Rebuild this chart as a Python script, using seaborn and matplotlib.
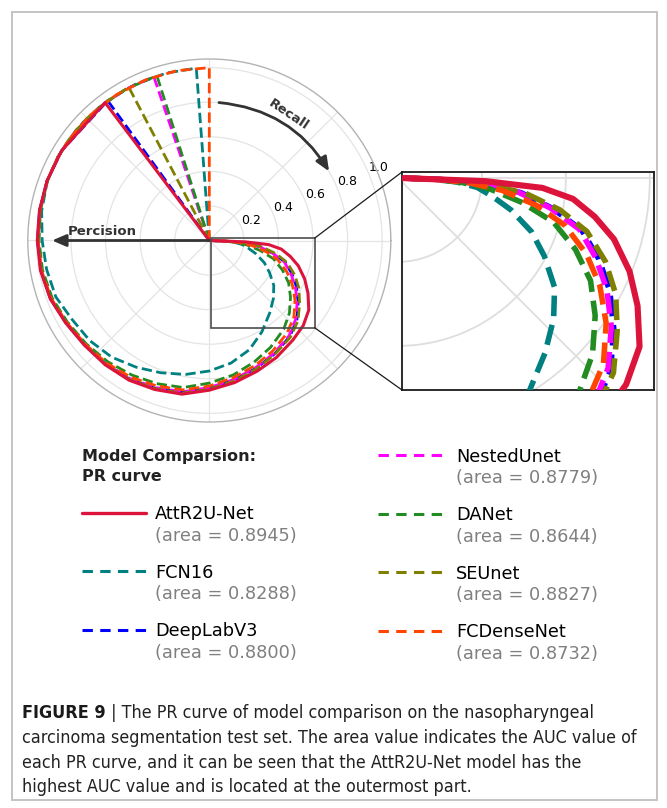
import numpy as np
import matplotlib
matplotlib.use("Agg")
import matplotlib.pyplot as plt
import seaborn as sns
from matplotlib import font_manager as fm
from matplotlib.lines import Line2D
from matplotlib.patches import Rectangle, Circle, ConnectionPatch
from matplotlib.text import Annotation

sns.set_theme(style="white")
plt.rcParams["font.family"] = ["DejaVu Sans"]

# ---------------------------------------------------------------------------
# PR curves.  Angle = 2*pi*precision, radius = recall.
# Precision levels (shared) at which the recall of every model is listed.
PREC_LEVELS = [0.444, 0.472, 0.500, 0.528, 0.556, 0.583, 0.611, 0.639, 0.667,
               0.694, 0.722, 0.750, 0.778, 0.806, 0.833, 0.861, 0.883, 0.903,
               0.922, 0.939, 0.956, 0.969, 0.981, 0.989, 0.994, 1.000]

# low-precision head of each curve (starts at the origin)
attr_prec_head = [0.353, 0.353, 0.413]
attr_rec_head = [0.0, 1.0, 1.0]
attr_rec = [1.000, 0.998, 0.995, 0.992, 0.980, 0.958, 0.943, 0.938, 0.932,
            0.918, 0.903, 0.866, 0.835, 0.805, 0.780, 0.752, 0.733, 0.702,
            0.647, 0.595, 0.535, 0.478, 0.420, 0.345, 0.210, 0.000]

fcn_prec_head = [0.262, 0.262, 0.290, 0.320, 0.350, 0.380, 0.400, 0.420]
fcn_rec_head = [0.0, 1.0, 1.0, 1.0, 1.0, 1.0, 1.0, 1.0]
fcn_rec = [0.998, 0.985, 0.967, 0.956, 0.946, 0.916, 0.902, 0.880, 0.846,
           0.815, 0.787, 0.755, 0.720, 0.673, 0.610, 0.545, 0.500, 0.455,
           0.395, 0.343, 0.280, 0.230, 0.190, 0.140, 0.080, 0.000]

deeplab_prec_head = [0.350, 0.350, 0.413]
deeplab_rec_head = [0.0, 1.0, 1.0]
deeplab_rec = [1.000, 0.997, 0.994, 0.990, 0.978, 0.956, 0.940, 0.933, 0.925,
               0.910, 0.893, 0.855, 0.820, 0.787, 0.757, 0.725, 0.683, 0.627,
               0.572, 0.516, 0.455, 0.375, 0.295, 0.195, 0.100, 0.000]

nested_prec_head = [0.302, 0.302, 0.330, 0.360, 0.390, 0.420]
nested_rec_head = [0.0, 1.0, 1.0, 1.0, 1.0, 1.0]
nested_rec = [1.000, 0.996, 0.992, 0.988, 0.976, 0.954, 0.938, 0.930, 0.921,
              0.906, 0.889, 0.851, 0.816, 0.782, 0.752, 0.719, 0.675, 0.620,
              0.564, 0.508, 0.450, 0.370, 0.290, 0.190, 0.100, 0.000]

danet_prec_head = [0.299, 0.299, 0.330, 0.360, 0.390, 0.420]
danet_rec_head = [0.0, 1.0, 1.0, 1.0, 1.0, 1.0]
danet_rec = [0.998, 0.992, 0.985, 0.980, 0.968, 0.947, 0.930, 0.915, 0.898,
             0.882, 0.864, 0.825, 0.790, 0.750, 0.712, 0.670, 0.625, 0.573,
             0.520, 0.456, 0.385, 0.300, 0.220, 0.150, 0.090, 0.000]

seunet_prec_head = [0.327, 0.327, 0.350, 0.375, 0.400, 0.420]
seunet_rec_head = [0.0, 1.0, 1.0, 1.0, 1.0, 1.0]
seunet_rec = [1.000, 0.996, 0.993, 0.990, 0.979, 0.957, 0.941, 0.934, 0.927,
              0.913, 0.897, 0.860, 0.825, 0.791, 0.760, 0.730, 0.692, 0.637,
              0.588, 0.533, 0.468, 0.393, 0.305, 0.200, 0.110, 0.000]

fcdense_prec_head = [0.250, 0.250, 0.280, 0.310, 0.340, 0.370, 0.400, 0.420]
fcdense_rec_head = [0.0, 1.0, 1.0, 1.0, 1.0, 1.0, 1.0, 1.0]
fcdense_rec = [1.000, 0.995, 0.990, 0.986, 0.974, 0.952, 0.935, 0.925, 0.912,
               0.895, 0.878, 0.842, 0.805, 0.770, 0.737, 0.700, 0.660, 0.605,
               0.545, 0.484, 0.413, 0.335, 0.250, 0.170, 0.095, 0.000]

MODELS = ["AttR2U-Net", "FCN16", "DeepLabV3", "NestedUnet", "DANet",
          "SEUnet", "FCDenseNet"]
AREAS = [0.8945, 0.8288, 0.8800, 0.8779, 0.8644, 0.8827, 0.8732]
COLORS = ["#DC143C", "#008080", "#0000FF", "#FF00FF", "#228B22",
          "#808000", "#FF4500"]
HEADS = [(attr_prec_head, attr_rec_head), (fcn_prec_head, fcn_rec_head),
         (deeplab_prec_head, deeplab_rec_head), (nested_prec_head, nested_rec_head),
         (danet_prec_head, danet_rec_head), (seunet_prec_head, seunet_rec_head),
         (fcdense_prec_head, fcdense_rec_head)]
RECALLS = [attr_rec, fcn_rec, deeplab_rec, nested_rec, danet_rec, seunet_rec,
           fcdense_rec]
DRAW_ORDER = [1, 2, 3, 4, 5, 6, 0]

curves = {}
for i, name in enumerate(MODELS):
    ph, rh = HEADS[i]
    prec = np.array(ph + PREC_LEVELS)
    rec = np.array(rh + RECALLS[i])
    curves[name] = (prec, rec)

W, H = 667, 808
fig = plt.figure(figsize=(W / 100, H / 100), dpi=100)
fig.patch.set_facecolor("white")

# ---------------------------------------------------------------- polar panel
cx, cy, R = 209.3, 240.5, 181.5
ax = fig.add_axes([(cx - R) / W, 1 - (cy + R) / H, 2 * R / W, 2 * R / H],
                  projection="polar")
ax.set_facecolor("white")

for i in DRAW_ORDER:
    name = MODELS[i]
    prec, rec = curves[name]
    solid = i == 0
    sns.lineplot(x=2 * np.pi * prec, y=rec, ax=ax, sort=False, estimator=None,
                 errorbar=None, color=COLORS[i], linewidth=2.2 if solid else 2.0,
                 linestyle="-" if solid else "--", legend=False, zorder=3)

ax.set_ylim(0, 1.05)
ax.set_yticks([0.2, 0.4, 0.6, 0.8, 1.0])
ax.set_yticklabels(["0.2", "0.4", "0.6", "0.8", "1.0"])
ax.set_rlabel_position(22.5)
ax.set_xticks(np.deg2rad(np.arange(0, 360, 45)))
ax.set_xticklabels([])
ax.set_xlabel("")
ax.set_ylabel("")
ax.grid(True, color="#e4e4e4", linewidth=0.9)
ax.tick_params(axis="y", labelsize=9, labelcolor="black", pad=0)
ax.spines["polar"].set_color("#b3b3b3")
ax.spines["polar"].set_linewidth(1.0)

# arrows
ax.annotate("", xy=(np.deg2rad(30), 0.80), xytext=(np.deg2rad(86), 0.80),
            arrowprops=dict(arrowstyle="-|>,head_length=0.7,head_width=0.3",
                            connectionstyle="arc3,rad=-0.25", color="#333333",
                            lw=2.0, shrinkA=0, shrinkB=0), zorder=5)
ax.text(np.deg2rad(58), 0.86, "Recall", rotation=-34, ha="center",
        va="center", fontsize=9.5, fontweight="bold", color="#333333",
        rotation_mode="anchor", zorder=5)
ax.annotate("", xy=(np.pi, 0.91), xytext=(np.pi, 0.0),
            arrowprops=dict(arrowstyle="-|>,head_length=0.7,head_width=0.3",
                            color="#333333", lw=2.0, shrinkA=0, shrinkB=0),
            zorder=5)
ax.text(np.deg2rad(175.4), 0.62, "Percision", ha="center", va="center",
        fontsize=9.5, fontweight="bold", color="#333333", zorder=5)

# ---------------------------------------------------------------- zoom inset
xlo, xhi, ylo, yhi = 0.0095, 0.61, -0.505, 0.014
axins = fig.add_axes([402 / W, 1 - 390 / H, 252 / W, 218 / H])
axins.set_facecolor("white")
for rr in [0.2, 0.4, 0.6, 0.8, 1.0]:
    axins.add_patch(Circle((0, 0), rr, fill=False, ec="#dedede", lw=1.3,
                           zorder=1))
axins.axhline(0, color="#dedede", lw=1.3, zorder=1)
axins.axline((0, 0), slope=-1, color="#dedede", lw=1.3, zorder=1)
for i in DRAW_ORDER:
    name = MODELS[i]
    prec, rec = curves[name]
    th = 2 * np.pi * prec
    solid = i == 0
    sns.lineplot(x=rec * np.cos(th), y=rec * np.sin(th), ax=axins, sort=False,
                 estimator=None, errorbar=None, color=COLORS[i],
                 linewidth=4.4 if solid else 4.0,
                 linestyle="-" if solid else "--", legend=False, zorder=3)
axins.set_xlim(xlo, xhi)
axins.set_ylim(ylo, yhi)
axins.set_xticks([])
axins.set_yticks([])
axins.set_xlabel("")
axins.set_ylabel("")
for sp in axins.spines.values():
    sp.set_color("#1a1a1a")
    sp.set_linewidth(1.3)

# rectangle on the polar panel (cartesian coordinates) + connectors
cart = ax.transProjectionAffine + ax.transWedge + ax.transAxes
ax.add_patch(Rectangle((xlo, ylo), xhi - xlo, yhi - ylo, transform=cart,
                       fill=False, ec="#4d4d4d", lw=1.2, zorder=6,
                       clip_on=False))
for (xa, ya), (xb, yb) in [((xhi, yhi), (0, 1)), ((xhi, ylo), (0, 0))]:
    con = ConnectionPatch(xyA=(xa, ya), coordsA=cart, xyB=(xb, yb),
                          coordsB=axins.transAxes, color="#1a1a1a", lw=0.9)
    fig.add_artist(con)

# ---------------------------------------------------------------- legend
LEGEND_ORDER = [0, 1, 2, 3, 4, 5, 6]
handles = [Line2D([], [], linestyle="none")]
labels = ["Model Comparsion:"]
for i in LEGEND_ORDER:
    handles.append(Line2D([], [], color=COLORS[i],
                          lw=2.4 if i == 0 else 2.2,
                          linestyle="-" if i == 0 else (0, (3.4, 2.4))))
    labels.append(MODELS[i])
FS = 12.8
HL, HTP = 3.6, 0.5
leg = fig.legend(handles, labels, ncol=2, loc="upper left",
                 bbox_to_anchor=(82 / W, 1 - 447.5 / H), frameon=False,
                 fontsize=FS, handlelength=HL, handletextpad=HTP,
                 labelspacing=2.28, columnspacing=2.78, borderpad=0,
                 borderaxespad=0)
texts = leg.get_texts()
t0 = texts[0]
t0.set_fontweight("bold")
t0.set_fontsize(11.5)
t0.set_color("#222222")
t0.set_x(-(HL + HTP) * FS * 100 / 72)
# second column labels sit a little further from their keys
for t in texts[4:]:
    t.set_x(5)

sub = Annotation("PR curve", xy=(0, 0.5), xycoords=t0, xytext=(0, -13.7),
                 textcoords="offset points", ha="left", va="center",
                 fontsize=11.5, fontweight="bold", color="#222222", zorder=10)
fig.add_artist(sub)
for k, i in enumerate(LEGEND_ORDER):
    t = texts[k + 1]
    t.set_color("black")
    a = Annotation(f"(area = {AREAS[i]:.4f})", xy=(0, 0.5), xycoords=t,
                   xytext=(0, -15.6), textcoords="offset points", ha="left",
                   va="center", fontsize=FS, color="#808080", zorder=10)
    fig.add_artist(a)

# ---------------------------------------------------------------- caption
def caption_font():
    """Pick a narrow sans family if one is installed."""
    options = [("Liberation Sans Narrow", "normal", "Narrow"),
               ("DejaVu Sans", "condensed", "ondensed"),
               ("Roboto Condensed", "normal", "ondensed"),
               ("Liberation Sans", "normal", "")]
    for fam, stretch, tag in options:
        try:
            path = fm.findfont(fm.FontProperties(family=fam, stretch=stretch),
                               fallback_to_default=False)
        except Exception:
            continue
        if tag and tag not in path:
            continue
        return fam, stretch
    return "DejaVu Sans", "normal"


cap_family, cap_stretch = caption_font()
cap_lines = [
    " | The PR curve of model comparison on the nasopharyngeal",
    "carcinoma segmentation test set. The area value indicates the AUC value of",
    "each PR curve, and it can be seen that the AttR2U-Net model has the",
    "highest AUC value and is located at the outermost part.",
]
cap_y = [713, 738, 763, 787]
X0 = 22 / W

# size the caption so that its longest line spans the frame width
renderer = fig.canvas.get_renderer()
probe = fig.text(X0, 0.5, cap_lines[1], family=cap_family, stretch=cap_stretch,
                 fontsize=14)
pw = probe.get_window_extent(renderer).width
probe.remove()
CAP_FS = 14 * 618 / pw

tb = fig.text(X0, 1 - cap_y[0] / H, "FIGURE 9", fontweight="bold",
              family=cap_family, stretch=cap_stretch, fontsize=CAP_FS,
              color="#1a1a1a", ha="left", va="center")
fig.add_artist(Annotation(cap_lines[0], xy=(1, 0.5), xycoords=tb,
                          ha="left", va="center", family=cap_family,
                          stretch=cap_stretch, fontsize=CAP_FS,
                          color="#222222", zorder=10))
for line, yy in zip(cap_lines[1:], cap_y[1:]):
    fig.text(X0, 1 - yy / H, line, family=cap_family, stretch=cap_stretch,
             fontsize=CAP_FS, color="#222222", ha="left", va="center")

# outer frame
fig.add_artist(Rectangle((12 / W, 1 - 800 / H), (657 - 12) / W, (800 - 12) / H,
                         transform=fig.transFigure, fill=False,
                         ec="#c4c4c4", lw=1.4))

fig.canvas.draw()
fig.savefig("out.png", dpi=100, facecolor="white")
